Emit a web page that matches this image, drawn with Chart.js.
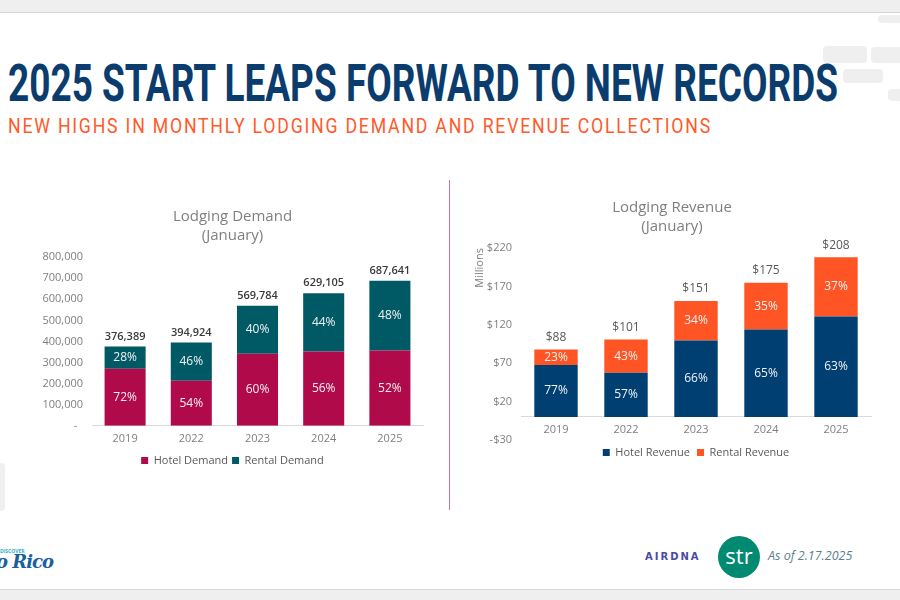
<!DOCTYPE html>
<html>
<head>
<meta charset="utf-8">
<title>2025 Start Leaps Forward to New Records</title>
<script src="https://cdn.jsdelivr.net/npm/chart.js@4.4.1/dist/chart.umd.min.js"></script>
<style>
  html, body { margin: 0; padding: 0; background: #fff; }
  body { width: 900px; height: 600px; position: relative; overflow: hidden; font-family: "Open Sans", sans-serif; }
  .topbar { position: absolute; left: 0; top: 0; width: 900px; height: 12px; background: #efefef; border-bottom: 1px solid #d4d4d4; }
  .botbar { position: absolute; left: 0; top: 589px; width: 900px; height: 11px; background: #efefef; border-top: 1px solid #d8d8d8; }
  .blob { position: absolute; background: #efefef; border-radius: 4px; }
  .headline { position: absolute; left: 8px; top: 58px; font: 700 52px Roboto, sans-serif; line-height: 1; color: #0b3c6e; white-space: nowrap; transform-origin: 0 0; }
  .subline { position: absolute; left: 8px; top: 116px; font: 400 20px Roboto, sans-serif; line-height: 1; color: #ff5a2a; letter-spacing: 2px; white-space: nowrap; transform-origin: 0 0; }
  .divider { position: absolute; left: 449px; top: 180px; width: 1px; height: 330px; background: #cf7597; }
  canvas { position: absolute; }
  #chart-demand { left: 32px; top: 199px; }
  #chart-revenue { left: 454px; top: 190px; }
  .logo-pr { position: absolute; left: -4px; top: 551px; font: italic 700 18px "DejaVu Serif", serif; color: #1c5f9e; letter-spacing: -1px; }
  .logo-pr small { position: absolute; left: 4px; top: -3px; font: 700 5px "Open Sans", sans-serif; color: #2bb3c0; letter-spacing: 0; }
  .airdna { position: absolute; left: 645px; top: 551px; font: 700 10px "DejaVu Sans", sans-serif; letter-spacing: 2px; color: #4a4aa6; }
  .str { position: absolute; left: 718px; top: 536px; width: 42px; height: 42px; border-radius: 50%; background: #008a72; color: #fff; font: 400 22px "Open Sans", sans-serif; text-align: center; line-height: 38px; }
  .asof { position: absolute; left: 768px; top: 547px; font: italic 400 12.5px "Open Sans", sans-serif; color: #5c7f8f; }
</style>
</head>
<body>
<div class="topbar"></div>
<div class="botbar"></div>
<div class="blob" style="left:878px;top:15px;width:30px;height:8px"></div>
<div class="blob" style="left:823px;top:46px;width:44px;height:17px"></div>
<div class="blob" style="left:871px;top:47px;width:35px;height:16px"></div>
<div class="blob" style="left:843px;top:69px;width:40px;height:14px"></div>
<div class="blob" style="left:888px;top:89px;width:20px;height:12px"></div>
<div class="blob" style="left:-4px;top:463px;width:9px;height:48px"></div>

<div class="headline" id="headline">2025 START LEAPS FORWARD TO NEW RECORDS</div>
<div class="subline" id="subline">NEW HIGHS IN MONTHLY LODGING DEMAND AND REVENUE COLLECTIONS</div>

<canvas id="chart-demand" width="401" height="279"></canvas>
<div class="divider"></div>
<canvas id="chart-revenue" width="436" height="280"></canvas>

<div class="logo-pr"><small>DISCOVER</small>o Rico</div>
<div class="airdna">AIRDNA</div>
<div class="str">str</div>
<div class="asof">As of 2.17.2025</div>

<script>
  // --- Data
  var years = ["2019", "2022", "2023", "2024", "2025"];

  var hotelDemand = [271000, 213300, 341900, 352300, 357600];
  var rentalDemand = [105389, 181624, 227884, 276805, 330041];
  var hotelDemandPct = ["72%", "54%", "60%", "56%", "52%"];
  var rentalDemandPct = ["28%", "46%", "40%", "44%", "48%"];
  var demandTotals = ["376,389", "394,924", "569,784", "629,105", "687,641"];

  var hotelRevenue = [67.8, 57.6, 99.7, 113.8, 131.0];
  var rentalRevenue = [20.2, 43.4, 51.3, 61.2, 77.0];
  var hotelRevenuePct = ["77%", "57%", "66%", "65%", "63%"];
  var rentalRevenuePct = ["23%", "43%", "34%", "35%", "37%"];
  var revenueTotals = ["$88", "$101", "$151", "$175", "$208"];

  (function () {
    "use strict";

    // --- Stretch the condensed headings to the slide width
    function fit(id, width) {
      var el = document.getElementById(id);
      if (!el) return;
      var w = el.getBoundingClientRect().width;
      el.style.transform = "scaleX(" + (width / w) + ")";
    }
    fit("headline", 830);
    fit("subline", 704);

    var colors = {
      crimson: "#b00a4b",
      teal: "#005a66",
      navy: "#003f72",
      orange: "#ff5424",
      grey: "#7f7f7f",
      text: "#595959",
      axis: "#d9d9d9",
    };
    var FONT = "'Open Sans', sans-serif";

    // --- Percent labels inside segments + total on top of each stack
    var stackLabels = {
      id: "stackLabels",
      afterDatasetsDraw: function (chart, args, opts) {
        var ctx = chart.ctx;
        ctx.save();
        ctx.textAlign = "center";
        ctx.textBaseline = "middle";
        ctx.font = "400 12px " + FONT;
        ctx.fillStyle = "#f2f2f2";
        chart.data.datasets.forEach(function (ds, i) {
          var meta = chart.getDatasetMeta(i);
          meta.data.forEach(function (bar, j) {
            ctx.fillText(ds.pct[j], bar.x, (bar.y + bar.base) / 2);
          });
        });
        var top = chart.getDatasetMeta(chart.data.datasets.length - 1);
        ctx.font = opts.font;
        ctx.fillStyle = opts.color;
        top.data.forEach(function (bar, j) {
          ctx.fillText(opts.totals[j], bar.x, bar.y - opts.offset);
        });
        ctx.restore();
      },
    };

    function legendOpts(fullSize, pad) {
      return {
        position: "bottom",
        fullSize: fullSize,
        labels: {
          boxWidth: 7,
          boxHeight: 7,
          padding: pad,
          color: colors.text,
          font: { family: FONT, size: 11 },
        },
      };
    }

    function titleOpts(text) {
      return {
        display: true,
        text: text,
        color: "#7f7f7f",
        font: { family: FONT, size: 15, weight: "normal", lineHeight: 1.27 },
        padding: { top: 8, bottom: 12 },
      };
    }

    // fixed y-axis width so the plot area starts where the slide's does
    function fixWidth(w) {
      return function (scale) { scale.width = w; };
    }

    // --- Chart 1: Lodging demand
    var demandCtx = document.getElementById("chart-demand");
    if (demandCtx) {
      new Chart(demandCtx, {
        type: "bar",
        data: {
          labels: years,
          datasets: [
            { label: "Hotel Demand", data: hotelDemand, pct: hotelDemandPct, backgroundColor: colors.crimson },
            { label: "Rental Demand", data: rentalDemand, pct: rentalDemandPct, backgroundColor: colors.teal },
          ],
        },
        options: {
          responsive: false,
          animation: false,
          barPercentage: 0.62,
          categoryPercentage: 1,
          layout: { padding: { left: 10, right: 10, bottom: 2 } },
          plugins: {
            title: titleOpts(["Lodging Demand", "(January)"]),
            legend: legendOpts(true, 4),
            tooltip: { enabled: false },
            stackLabels: { totals: demandTotals, font: "600 11px " + FONT, color: "#3a3a3a", offset: 10 },
          },
          scales: {
            x: {
              stacked: true,
              grid: { display: false, drawTicks: false },
              border: { display: true, color: colors.axis },
              ticks: { color: colors.grey, font: { family: FONT, size: 11 }, padding: 6 },
            },
            y: {
              stacked: true,
              min: 0,
              max: 800000,
              afterFit: fixWidth(50),
              grid: { display: false, drawTicks: false },
              border: { display: false },
              ticks: {
                stepSize: 100000,
                color: colors.grey,
                font: { family: FONT, size: 11 },
                padding: 9,
                callback: function (v) { return v === 0 ? "-  " : v.toLocaleString("en-US"); },
              },
            },
          },
        },
        plugins: [stackLabels],
      });
    }

    // --- Chart 2: Lodging revenue (x axis sits on zero, scale runs to -$30)
    var revenueCtx = document.getElementById("chart-revenue");
    if (revenueCtx) {
      new Chart(revenueCtx, {
        type: "bar",
        data: {
          labels: years,
          datasets: [
            { label: "Hotel Revenue", data: hotelRevenue, pct: hotelRevenuePct, backgroundColor: colors.navy },
            { label: "Rental Revenue", data: rentalRevenue, pct: rentalRevenuePct, backgroundColor: colors.orange },
          ],
        },
        options: {
          responsive: false,
          animation: false,
          barPercentage: 0.62,
          categoryPercentage: 1,
          layout: { padding: { left: 19, right: 19, bottom: 2 } },
          plugins: {
            title: titleOpts(["Lodging Revenue", "(January)"]),
            legend: legendOpts(false, 7),
            tooltip: { enabled: false },
            stackLabels: { totals: revenueTotals, font: "400 12px " + FONT, color: colors.text, offset: 12 },
          },
          scales: {
            x: {
              stacked: true,
              position: { y: 0 },
              grid: { display: false, drawTicks: false },
              border: { display: true, color: colors.axis },
              ticks: { color: colors.grey, font: { family: FONT, size: 11 }, padding: 6 },
            },
            y: {
              stacked: true,
              min: -30,
              max: 220,
              afterFit: fixWidth(48),
              grid: { display: false, drawTicks: false },
              border: { display: false },
              title: {
                display: true,
                text: "Millions",
                align: "end",
                color: colors.grey,
                font: { family: FONT, size: 11 },
                padding: { top: 0, bottom: 0 },
              },
              ticks: {
                stepSize: 50,
                color: colors.grey,
                font: { family: FONT, size: 11 },
                padding: 9,
                callback: function (v) { return (v < 0 ? "-$" : "$") + Math.abs(v); },
              },
            },
          },
        },
        plugins: [stackLabels],
      });
    }
  })();
</script>
</body>
</html>
